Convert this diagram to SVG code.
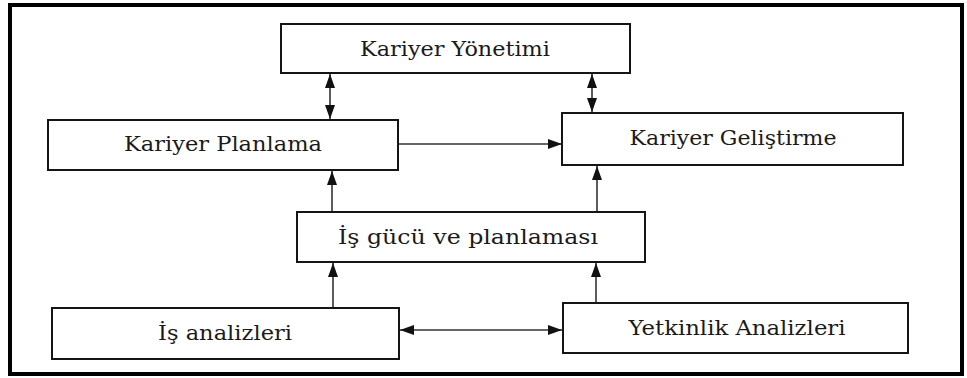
<svg xmlns="http://www.w3.org/2000/svg" width="967" height="378" viewBox="0 0 967 378">
  <style>
    .box { fill: #ffffff; stroke: #151515; stroke-width: 2; }
    .label { font-family: "DejaVu Serif", "Liberation Serif", serif; font-size: 20px; fill: #1a1a1a; text-anchor: middle; }
    .link { stroke: #333333; stroke-width: 1.6; fill: none; }
    .frame { fill: #ffffff; stroke: #000000; stroke-width: 4; }
  </style>
  <defs>
    <marker id="head" viewBox="0 0 14 10" refX="14" refY="5" markerWidth="14" markerHeight="10" markerUnits="userSpaceOnUse" orient="auto-start-reverse">
      <path d="M0,0 L14,5 L0,10 Z" fill="#111111"/>
    </marker>
  </defs>

  <rect class="frame" x="10" y="5" width="952" height="369"/>

  <g id="connectors">
    <!-- Kariyer Yönetimi <-> Kariyer Planlama -->
    <line class="link" x1="330" y1="74" x2="330" y2="119" marker-start="url(#head)" marker-end="url(#head)"/>
    <!-- Kariyer Yönetimi <-> Kariyer Geliştirme -->
    <line class="link" x1="592" y1="74" x2="592" y2="112" marker-start="url(#head)" marker-end="url(#head)"/>
    <!-- Kariyer Planlama -> Kariyer Geliştirme -->
    <line class="link" x1="398" y1="144" x2="562" y2="144" marker-end="url(#head)"/>
    <!-- İş gücü -> Kariyer Planlama -->
    <line class="link" x1="332" y1="212" x2="332" y2="171" marker-end="url(#head)"/>
    <!-- İş gücü -> Kariyer Geliştirme -->
    <line class="link" x1="597" y1="212" x2="597" y2="166" marker-end="url(#head)"/>
    <!-- İş analizleri -> İş gücü -->
    <line class="link" x1="333" y1="308" x2="333" y2="263" marker-end="url(#head)"/>
    <!-- Yetkinlik Analizleri -> İş gücü -->
    <line class="link" x1="596" y1="303" x2="596" y2="263" marker-end="url(#head)"/>
    <!-- İş analizleri <-> Yetkinlik Analizleri -->
    <line class="link" x1="400" y1="330" x2="562" y2="330" marker-start="url(#head)" marker-end="url(#head)"/>
  </g>

  <g id="kariyer-yonetimi">
    <rect class="box" x="281" y="24" width="349" height="49"/>
    <text class="label" x="455" y="56" textLength="190" lengthAdjust="spacingAndGlyphs">Kariyer Yönetimi</text>
  </g>

  <g id="kariyer-planlama">
    <rect class="box" x="48" y="120" width="350" height="50"/>
    <text class="label" x="223" y="151" textLength="198" lengthAdjust="spacingAndGlyphs">Kariyer Planlama</text>
  </g>

  <g id="kariyer-gelistirme">
    <rect class="box" x="562" y="113" width="341" height="52"/>
    <text class="label" x="733" y="145" textLength="207" lengthAdjust="spacingAndGlyphs">Kariyer Geliştirme</text>
  </g>

  <g id="is-gucu">
    <rect class="box" x="297" y="212" width="348" height="50"/>
    <text class="label" x="468" y="244" textLength="260" lengthAdjust="spacingAndGlyphs">İş gücü ve planlaması</text>
  </g>

  <g id="is-analizleri">
    <rect class="box" x="52" y="308" width="347" height="51"/>
    <text class="label" x="225" y="340" textLength="134" lengthAdjust="spacingAndGlyphs">İş analizleri</text>
  </g>

  <g id="yetkinlik-analizleri">
    <rect class="box" x="563" y="303" width="345" height="50"/>
    <text class="label" x="737" y="335" textLength="217" lengthAdjust="spacingAndGlyphs">Yetkinlik Analizleri</text>
  </g>
</svg>
